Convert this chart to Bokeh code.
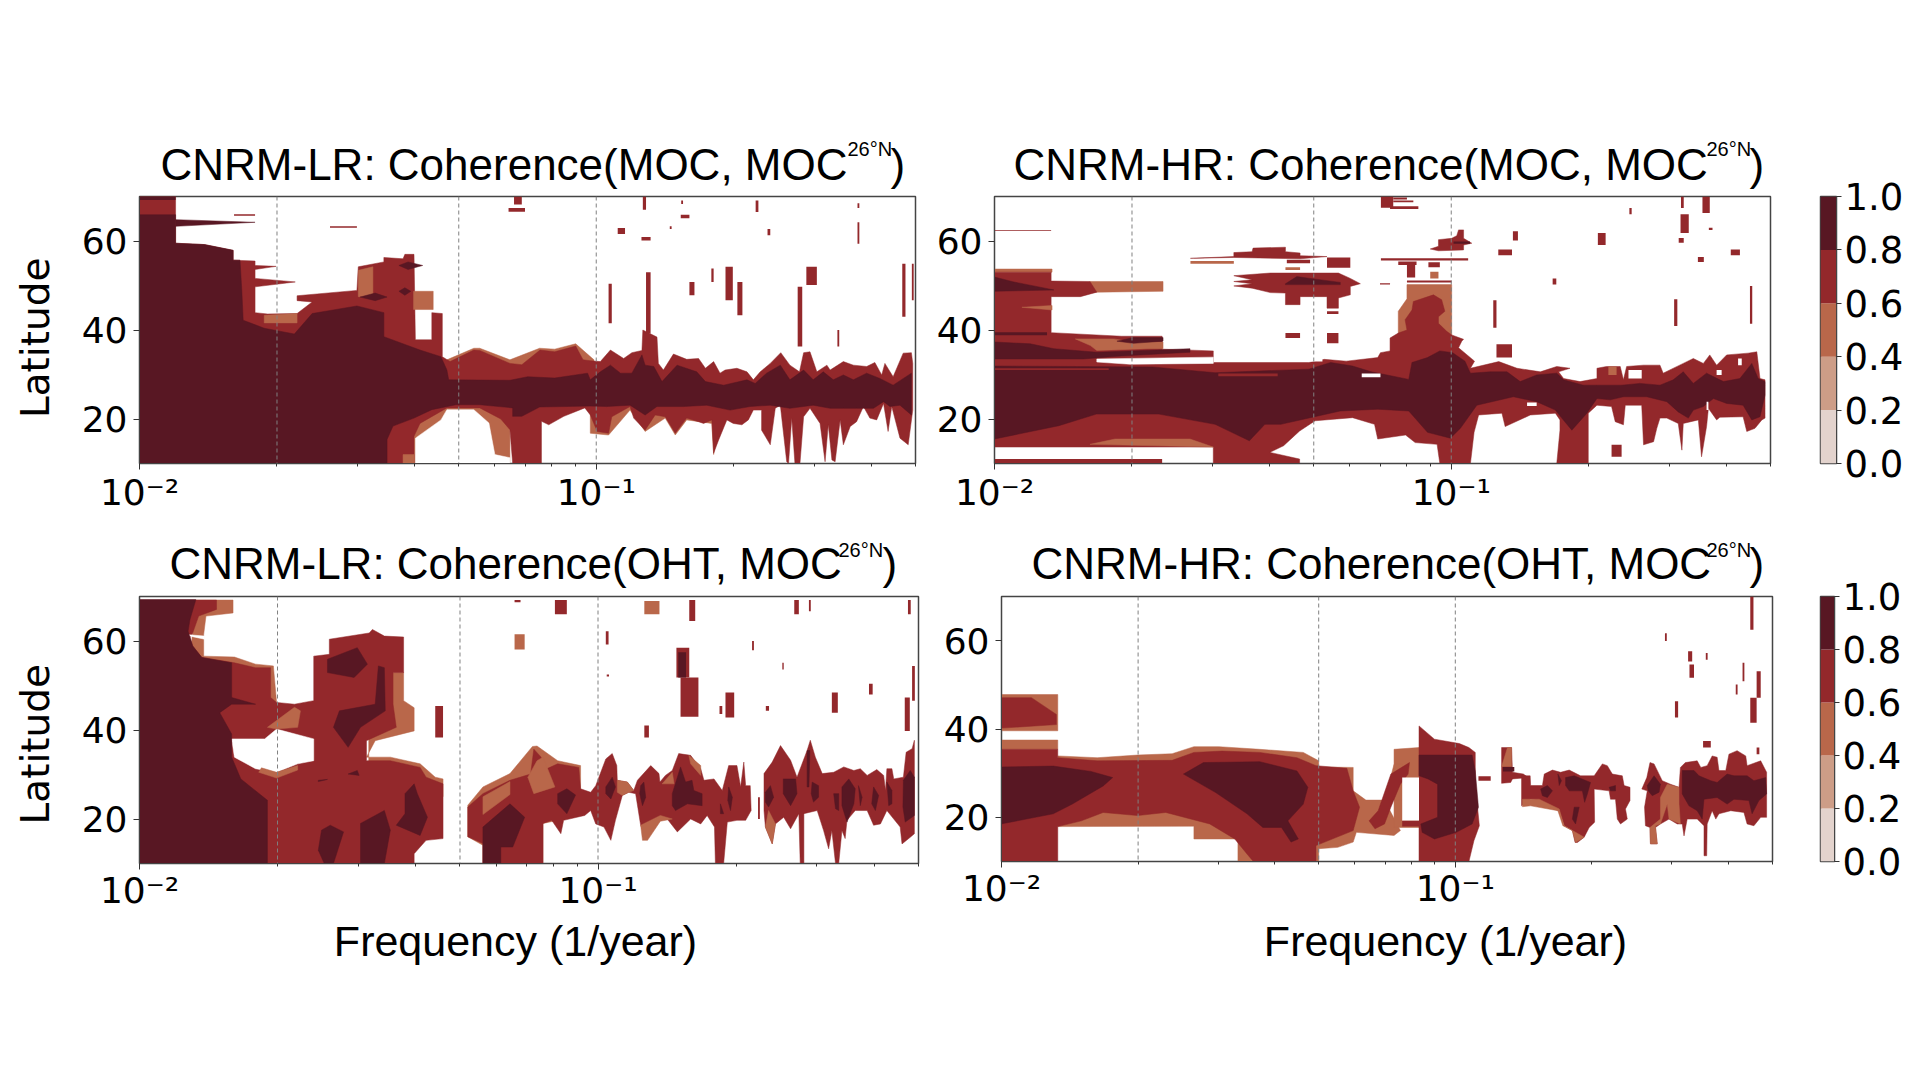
from bokeh.plotting import figure
from bokeh.layouts import row, column
from bokeh.models import Label, Span, FixedTicker, Range1d
from bokeh.embed import file_html
from bokeh.resources import INLINE

# Contour levels and their colours
levels = [0.0, 0.2, 0.4, 0.6, 0.8, 1.0]
level_colors = ["#e3d3cd", "#cd9d87", "#b9674a", "#93282b", "#581723"]
C_ORANGE, C_RED, C_DARK = level_colors[2], level_colors[3], level_colors[4]
WHITE = "#ffffff"

guide_freqs = [0.02, 0.05, 0.1]
lat_ticks = [20, 40, 60]
freq_major = [0.01, 0.1]
freq_minor = [0.02, 0.03, 0.04, 0.05, 0.06, 0.07, 0.08, 0.09, 0.2, 0.3, 0.4, 0.5]
freq_tick_labels = {0.01: "10\u207b\u00b2", 0.1: "10\u207b\u00b9"}

title_a = "CNRM-LR: Coherence(MOC, MOC"
title_b = "CNRM-HR: Coherence(MOC, MOC"
title_c = "CNRM-LR: Coherence(OHT, MOC"
title_d = "CNRM-HR: Coherence(OHT, MOC"
title_sup = "26\u00b0N"
x_label = "Frequency (1/year)"
y_label = "Latitude"

# Every region is (log10 frequency, latitude).
# ---- CNRM-LR MOC
A_orange_under = [
    [(-1.327,33.3),(-1.268,35.9),(-1.255,35.9),(-1.189,33.3),(-1.124,35.9),(-1.091,35.7),(-1.045,36.9),(-1.005,33.3),(-1.005,30),(-1.327,30)],
    [(-1.013,16.8),(-.973,16.4),(-.926,22),(-.893,17.2),(-.849,20.2),(-.827,16.4),(-.802,19.8),(-.747,19),(-.743,12),(-.732,19),(-.7,23),(-1.013,23)],
    [(-1.43,10),(-1.43,22.7),(-1.189,22.7),(-1.189,10)],
]
A_red = [
    [(-2,70),(-1.921,70),(-1.921,59.5),(-1.858,59.2),(-1.795,57.9),(-1.795,55.7),(-1.747,55.5),(-1.747,54.5),(-1.701,54.3),(-1.747,53.6),(-1.747,51.6),(-1.659,50.8),(-1.747,49.7),(-1.747,43.9),(-1.720,43.6),(-1.655,43.7),(-1.622,46.3),(-1.655,46.6),(-1.655,47.7),(-1.524,48.9),(-1.521,54.2),(-1.465,55.3),(-1.465,56.3),(-1.423,56),(-1.419,57),(-1.399,57),(-1.396,37.8),(-1.360,37.8),(-1.360,43.9),(-1.337,43.7),(-1.337,34),(-1.320,32.9),(-1.268,35.5),(-1.255,35.4),(-1.189,32.5),(-1.163,32.2),(-1.123,35.5),(-1.091,35.1),(-1.045,36.4),(-1.029,33.3),
     (-1.013,33.1),(-.991,32.9),(-.969,35.5),(-.940,33.6),(-.922,34.9),(-.900,35.4),(-.898,40),(-.867,38.4),(-.864,32.5),(-.853,31),(-.831,34.6),(-.802,33.4),(-.776,33.6),(-.761,31.4),(-.743,32.9),(-.729,30.3),(-.718,31),(-.692,31.4),(-.670,30.6),(-.656,28.8),(-.641,30.6),(-.619,32.5),(-.596,34.9),(-.576,32.1),(-.555,30.6),(-.546,34.9),(-.532,35.1),(-.517,30.6),(-.495,32.1),(-.488,31),(-.459,32.9),(-.437,32.1),(-.408,31.8),(-.390,32.7),(-.375,29.9),(-.368,32.5),(-.350,29.5),(-.328,34.8),(-.310,34.9),(-.307,32.5),
     (-.307,22),(-.317,14.2),(-.335,15.7),(-.353,22.8),(-.361,17.2),(-.371,23.5),(-.386,19.8),(-.401,20.2),(-.415,22.8),(-.430,19.4),(-.444,18.3),(-.459,14.2),(-.466,19.8),(-.477,10.4),(-.484,10.8),(-.492,18.7),(-.499,10.4),(-.510,19),(-.532,22.4),(-.546,20.5),(-.554,10),(-.565,10),(-.572,20.2),(-.579,10),(-.583,10.4),(-.597,23.1),(-.608,22.4),(-.619,14.2),(-.638,17.5),(-.638,22),(-.656,22),(-.667,19.8),(-.681,18.7),(-.700,19),(-.714,19.8),(-.732,15.3),(-.743,12.3),(-.747,19.8),(-.765,19),(-.776,19.4),(-.802,20.2),(-.827,16.8),(-.849,20.5),(-.871,20.9),(-.893,17.5),(-.918,20.2),(-.926,22.8),(-.966,20.5),(-.973,16.8),(-.998,17.2),(-1.013,20.9),
     (-1.025,22.5),(-1.071,20.6),(-1.104,18.7),(-1.120,19.5),(-1.120,10),(-1.183,10),(-1.189,17.6),(-1.209,20),(-1.255,22.5),(-1.327,22.5),(-1.386,19),(-1.399,16.1),(-1.399,10),(-2,10)],
]
A_orange_over = [
    [(-1.727,43.3),(-1.655,43.7),(-1.655,41.6),(-1.727,41.6)],
    [(-1.521,47.5),(-1.521,53.4),(-1.489,54.2),(-1.489,47.5)],
    [(-1.40,44.6),(-1.357,44.6),(-1.357,48.7),(-1.40,48.7)],
    [(-1.423,10),(-1.399,10),(-1.399,12),(-1.423,12)],
]
A_dark = [
    [(-2,65.9),(-1.921,65.9),(-1.921,59.5),(-1.858,59.2),(-1.795,57.9),(-1.795,55.7),(-1.780,55.7),(-1.776,48.9),(-1.773,42.2),(-1.727,40.4),(-1.661,39.1),(-1.622,43.7),(-1.524,45.4),(-1.465,43.9),(-1.465,38.5),(-1.386,35.5),(-1.340,34),(-1.327,31),(-1.323,28.8),(-1.189,28.7),(-1.150,29.5),(-1.091,29.2),(-1.019,30.3),
     (-1.013,28.8),(-.991,30.6),(-.969,32.1),(-.947,30.3),(-.922,30.3),(-.900,34.4),(-.893,32.1),(-.874,31.8),(-.856,28.4),(-.823,32.1),(-.780,30.6),(-.761,28.4),(-.721,27.6),(-.670,28.8),(-.652,28),(-.627,30.3),(-.597,32.1),(-.576,28.8),(-.546,31),(-.525,28.8),(-.503,30.6),(-.481,28.8),(-.459,29.9),(-.437,28.8),(-.408,30.3),(-.379,29.1),(-.350,27.6),(-.310,30.3),
     (-.310,20.9),(-.335,23.1),(-.357,22.8),(-.371,23.9),(-.393,22.4),(-.430,22.4),(-.459,22.4),(-.488,22.4),(-.525,23.1),(-.576,22.4),(-.619,23.1),(-.663,22.8),(-.707,22),(-.758,23.1),(-.809,22.8),(-.867,22.8),(-.893,20.9),(-.926,23.1),(-.977,22.8),(-1.013,22.9),
     (-1.124,22.7),(-1.163,20.6),(-1.183,20.6),(-1.183,22.5),(-1.255,23.2),(-1.307,23.2),(-1.360,22.1),(-1.399,20.2),(-1.445,18.4),(-1.458,15.4),(-1.458,10),(-2,10)],
    [(-1.921,64.8),(-1.747,64.2),(-1.921,63.3)],
    [(-1.432,54.5),(-1.412,55.3),(-1.380,54.5),(-1.412,53.6)],
    [(-1.517,47.4),(-1.484,48.3),(-1.458,47.4),(-1.484,46.6)],
    [(-1.432,48.7),(-1.419,49.5),(-1.406,48.7),(-1.419,47.8)],
]
A_white = [[(-1.396,10),(-1.396,15.7),(-1.340,19.8),(-1.327,22.1),(-1.268,22.1),(-1.235,19.1),(-1.222,12),(-1.189,11.3),(-1.189,10)]]
# (left, right, bottom, top) in log10 frequency and latitude
A_red_quads = [(-.973,-.966,41.5,50.4),(-.891,-.881,39.2,53),(-.796,-.785,47.8,50.8),(-.748,-.743,50.8,53.8),(-.717,-.701,46.7,54.2),(-.691,-.680,43.3,50.8),(-.559,-.549,36.3,49.7),(-.540,-.517,50.1,54.2),(-.472,-.468,36.3,40),(-.330,-.323,43,54.9),(-.309,-.305,46.7,54.9),(-1.180,-1.163,68.2,70),(-1.192,-1.156,66.6,67.4),(-.898,-.891,67,70),(-.651,-.645,66.5,69.1),(-.814,-.810,68.3,69.1),(-.815,-.796,65.1,65.9),(-.953,-.937,61.6,62.9),(-.625,-.619,61.3,62.7),(-.901,-.881,60.1,60.9),(-.839,-.835,62.7,63.3),(-.428,-.424,59.4,64.2),(-.428,-.424,67.4,68.5),(-1.583,-1.524,63,63.3),(-1.793,-1.747,65.7,66)]
A_dark_quads = [(-2,-1.921,69.2,70)]

# ---- CNRM-HR MOC
B_orange_under = [
    [(-2,53),(-1.874,53),(-1.874,53.7),(-2,53.7)],
    [(-1.791,50.9),(-1.631,50.9),(-1.631,48.7),(-1.776,48.5),(-1.791,48.5)],
    [(-1.097,50.2),(-.999,50.2),(-.999,38.5),(-1.116,38.5),(-1.116,44.2),(-1.097,47)],
]
B_red = [
    [(-2,53),(-1.876,53),(-1.876,51),(-1.791,50.9),(-1.776,48.5),(-1.812,47.5),(-1.876,47.5),(-1.876,39.4),(-1.722,38.6),(-1.633,38.6),(-1.633,35.7),(-1.521,35.3),(-1.521,32.7),(-1.312,32.7),(-1.278,33.4),(-1.230,33),(-1.161,33.8),(-1.155,34.9),(-1.134,35.3),(-1.134,38.2),(-1.116,39.3),(-1.097,40),(-1.101,42.3),(-1.086,44.5),(-1.083,46.4),(-1.039,47.9),(-1.021,46.8),(-1.014,44.2),(-1.028,43),(-1.028,41.5),(-1.010,39.7),(-.999,38.9),(-.973,37.9),(-.977,37.5),(-.984,36),(-.949,33),
     (-.958,31.4),(-.896,32.9),(-.856,31.4),(-.805,30.6),(-.769,31.8),(-.740,31.4),(-.765,30.6),(-.754,29.1),(-.718,28.4),(-.681,29.1),(-.681,31.4),(-.660,31.8),(-.630,31.8),(-.623,28.8),(-.616,31.8),(-.579,32.1),(-.543,32.1),(-.536,30.3),(-.492,32.5),(-.470,33.6),(-.448,32.5),(-.434,34.4),(-.419,32.1),(-.397,34.4),(-.350,34.8),(-.331,35.1),(-.324,29.1),(-.313,28.8),
     (-.313,20.2),(-.320,19.8),(-.335,17.9),(-.353,17.2),(-.361,20.5),(-.412,20.4),(-.419,19.8),(-.437,22.4),(-.441,18.3),(-.452,11.5),(-.459,19.8),(-.492,19),(-.495,13),(-.503,19),(-.528,20.2),(-.543,20.2),(-.550,17.9),(-.557,14.9),(-.579,14.2),(-.583,23.1),(-.619,23.1),(-.623,18.7),(-.641,19.4),(-.649,22.8),(-.681,23.1),(-.700,21.3),(-.700,10),(-.769,10),(-.762,17.5),(-.762,19.8),(-.772,21.3),(-.827,20.9),(-.882,18.3),(-.889,21.3),(-.940,20.9),(-.950,17),(-.958,10),
     (-1.025,10),(-1.031,14.3),(-1.079,14.7),(-1.100,16.4),(-1.161,15.5),(-1.168,18.8),(-1.216,20.3),(-1.298,19.6),(-1.332,17.3),(-1.367,14),(-1.397,12.5),(-1.332,11),(-1.332,10),(-1.521,10),(-1.521,13.7),(-2,13.7)],
    [(-1.476,52.2),(-1.396,52.8),(-1.247,52.8),(-1.221,51.6),(-1.199,50.4),(-1.221,49.8),(-1.221,47.9),(-1.247,47.2),(-1.247,44.9),(-1.272,44.9),(-1.272,47.5),(-1.331,47.5),(-1.331,45.7),(-1.363,45.7),(-1.363,48.3),(-1.396,48.4),(-1.436,49.4),(-1.476,49.9),(-1.436,50.4),(-1.476,50.9),(-1.436,51.3)],
    [(-1.571,56.1),(-1.476,56.5),(-1.476,57.4),(-1.436,57.6),(-1.434,58.4),(-1.363,58.6),(-1.363,57.6),(-1.331,57.3),(-1.331,56.7),(-1.272,56.5),(-1.331,56),(-1.476,56.3)],
    [(-1.046,58.2),(-1.028,58.8),(-1.028,60.3),(-.999,60.6),(-.988,61.2),(-.984,62.5),(-.973,62.5),(-.973,60.6),(-.955,59.5),(-.973,59.1),(-.973,58),(-1.028,57.8)],
]
B_orange_over = [
    [(-1.823,38),(-1.739,38),(-1.696,37.3),(-1.631,37.3),(-1.631,35.8),(-1.666,35.8),(-1.776,35.4),(-1.790,36.5)],
    [(-1.791,14.3),(-1.736,15.5),(-1.572,15.5),(-1.521,13.7)],
    [(-1.940,45.1),(-1.874,45.5),(-1.874,44.5)],
]
B_dark = [
    [(-2,31.9),(-1.654,31.7),(-1.517,30.4),(-1.312,31.2),(-1.264,32.7),(-1.216,31.9),(-1.175,30.6),(-1.093,28.9),(-1.086,32.7),(-1.052,33.8),(-1.025,35.3),(-.997,34.9),(-.970,33),(-.958,30.3),
     (-.915,30.6),(-.878,30.6),(-.849,28.4),(-.813,29.9),(-.769,30.3),(-.754,28.8),(-.711,27.6),(-.681,27.6),(-.627,27.6),(-.587,28),(-.543,27.6),(-.514,28.8),(-.492,30.6),(-.470,28),(-.441,30.3),(-.404,28.4),(-.368,29.1),(-.342,32.5),(-.328,29.1),(-.313,28.4),
     (-.313,25.4),(-.324,20.5),(-.342,19.8),(-.361,23.1),(-.397,23.5),(-.426,24.6),(-.448,22.8),(-.470,22),(-.481,20.2),(-.503,21.6),(-.528,23.9),(-.572,25),(-.623,25),(-.652,24.3),(-.681,24.6),(-.703,21.3),(-.736,17.5),(-.758,20.2),(-.772,22),(-.813,23.9),(-.864,25),(-.944,23.1),(-.980,17.9),(-1.002,15.7),
     (-1.052,17),(-1.093,21.8),(-1.161,22.2),(-1.243,21.8),(-1.326,19.9),(-1.373,18.8),(-1.408,18.8),(-1.442,15.1),(-1.517,18.8),(-1.640,21.1),(-1.777,21.1),(-1.859,18.5),(-2,15.5)],
    [(-2,37.3),(-1.922,36.9),(-1.870,35.8),(-1.776,35),(-1.572,35.8),(-1.572,35),(-1.732,34.1),(-1.805,33.5),(-2,33.5)],
    [(-1.732,37.5),(-1.696,38.3),(-1.631,38.3),(-1.631,37.5),(-1.696,37)],
    [(-2,51.9),(-1.958,50.8),(-1.870,49),(-2,48.7)],
    [(-1.363,50.4),(-1.338,52),(-1.309,51.6),(-1.243,50.7),(-1.243,50.2),(-1.363,50.2)],
]
B_white = [[(-1.776,33.5),(-1.521,33.9),(-1.521,32.5),(-1.703,32.3),(-1.776,32.8)]]
B_white_quads = [(-1.196,-1.155,29.4,30.2),(-.834,-.813,22.9,23.7),(-1.328,-1.282,32.9,33.6),(-.612,-.583,29.1,31),(-.441,-.437,22,23.9),(-.419,-.408,29.9,31),(-.372,-.364,32.1,33.6)]
B_orange_quads = [(-.656,-.638,29.9,31.8),(-1.571,-1.476,54.9,55.5),(-1.363,-1.331,53.5,54.1),(-1.046,-1.028,51.6,53.1)]
B_red_quads = [(-1.154,-1.127,67.5,70),(-1.127,-1.097,69.3,69.8),(-1.127,-1.083,68.7,69.1),(-1.134,-1.072,67.2,67.8),(-2,-1.876,62.3,62.5),(-.865,-.854,60.1,62.2),(-.897,-.867,56.8,58.1),(-.679,-.662,59.1,61.8),(-.610,-.605,66,67.4),(-.498,-.480,61.8,66),(-.497,-.491,67.4,70),(-.450,-.434,66.3,70),(-.388,-.368,56.8,58.1),(-.436,-.428,62.5,63),(-.460,-.447,55.3,56.4),(-.502,-.491,59.6,60.7),(-.778,-.770,50.2,51.6),(-.908,-.901,40.5,46.7),(-.512,-.505,40.9,46.9),(-.346,-.341,41.4,49.9),(-.901,-.867,33.8,36.8),(-1.360,-1.309,55,55.8),(-1.272,-1.221,54,56.3),(-1.272,-1.247,43.6,44.2),(-1.156,-1.134,50.2,50.5),(-1.363,-1.331,38.2,39.3),(-1.272,-1.247,37,39.3),(-1.154,-.963,55.6,56.1),(-1.116,-1.076,54.6,55.4),(-1.097,-1.079,51.8,54.6),(-1.050,-1.025,54.1,55.2),(-1.097,-.999,50.7,51.1),(-1.510,-1.380,29.6,30.2),(-2,-1.750,31,31.4),(-.649,-.627,11.5,14.2),(-2,-1.633,10,11)]
B_dark_quads = [(-2,-1.885,38.8,39.5),(-.995,-.959,59.4,59.9)]

# ---- CNRM-LR OHT
C_orange_under = [
    [(-1.877,69.2),(-1.796,69.2),(-1.796,66.3),(-1.855,65.6),(-1.860,61.5),(-1.860,56.6),(-1.793,56.4),(-1.747,54.8),(-1.708,54.4),(-1.701,46.2),(-1.9,46.2)],
    [(-1.5,53),(-1.424,53),(-1.424,46.6),(-1.401,45),(-1.401,39.8),(-1.486,37.6),(-1.505,33.9),(-1.453,33.9),(-1.388,32.4),(-1.355,29.4),(-1.338,29),(-1.338,25),(-1.5,25)],
    [(-1.284,23.1),(-1.251,27.2),(-1.192,30.2),(-1.143,36.3),(-1.133,36.4),(-1.088,33.1),(-1.038,32),(-1.038,20.8),(-1.120,19),(-1.120,10),(-1.251,10),(-1.251,14.1),(-1.284,16)],
]
C_red = [
    [(-2,69.2),(-1.832,69.2),(-1.832,67.1),(-1.871,65.6),(-1.884,61.8),(-1.890,60.7),(-1.884,58.9),(-1.864,56.3),(-1.793,55.1),(-1.747,54),(-1.714,54),(-1.714,47.3),(-1.701,46.2),(-1.662,45.8),(-1.620,46.6),(-1.620,56.6),(-1.586,57),(-1.586,60.4),(-1.499,61.8),(-1.492,62.6),(-1.466,61.1),(-1.424,60.9),(-1.424,52.9),(-1.447,52.9),(-1.447,45.8),(-1.440,40.6),(-1.505,37.6),(-1.505,33.1),(-1.453,33.1),(-1.388,31.6),(-1.375,29.4),(-1.338,27.9),(-1.338,15.6),(-1.375,15.2),(-1.401,12.2),(-1.401,10),(-2,10)],
    [(-1.284,22.7),(-1.251,25.7),(-1.192,28.7),(-1.147,30.1),(-1.140,35.7),(-1.124,33.9),(-1.120,30.9),(-1.088,32.4),(-1.042,31.6),(-1.038,26.8),
     (-1.016,26),(-1.005,27.5),(-.983,33.5),(-.969,34.7),(-.959,32),(-.958,28.7),(-.936,28.3),(-.922,26.4),(-.914,28.7),(-.885,32),(-.867,30.2),(-.865,28.3),(-.853,29.8),(-.838,30.9),(-.824,34.7),(-.798,34.3),(-.776,31.3),(-.769,28.7),(-.747,29),(-.729,26.4),(-.715,32),(-.697,32),(-.689,27.2),(-.682,32.8),(-.678,27.5),(-.668,27.5),(-.666,21.9),
     (-.678,19.7),(-.697,19.7),(-.718,19.3),(-.726,10),(-.744,10),(-.746,18.2),(-.762,20.8),(-.776,18.9),(-.798,20),(-.827,17.1),(-.849,20),(-.871,20),(-.896,15.6),(-.907,18.6),(-.918,25.7),(-.933,26),(-.947,25.3),(-.962,19.7),(-.972,15.2),(-.987,18.2),(-1.005,18.9),(-1.016,21.9),
     (-1.029,20.8),(-1.075,19.7),(-1.081,16.7),(-1.101,19.7),(-1.120,19),(-1.120,10),(-1.251,10),(-1.251,14.5),(-1.284,16)],
    [(-.638,30.2),(-.620,32.8),(-.602,36.5),(-.580,33.2),(-.566,29.4),(-.544,35.4),(-.537,37.7),(-.526,33.9),(-.511,30.2),(-.486,30.5),(-.464,31.7),(-.442,30.9),(-.428,31.3),(-.413,29.8),(-.392,31.1),(-.377,29.8),(-.373,26.4),(-.370,31.3),(-.359,31.3),(-.355,29),(-.334,29.4),(-.328,35),(-.315,35.8),(-.310,37.7),
     (-.310,16.7),(-.319,15.9),(-.337,14.4),(-.341,18.2),(-.370,21.9),(-.384,18.9),(-.399,18.6),(-.413,21.9),(-.439,21.9),(-.457,19.7),(-.461,15.6),(-.468,17.4),(-.475,10),(-.482,10),(-.490,17.4),(-.497,13.3),(-.508,17.4),(-.522,21.9),(-.551,21.2),(-.551,10),(-.559,10),(-.562,21.2),(-.580,17.8),(-.595,20.4),(-.613,18.9),(-.620,14.4),(-.635,18.2),(-.638,21.9)],
]
C_orange_over = [
    [(-1.721,40.6),(-1.662,45.1),(-1.649,44.3),(-1.655,40.6),(-1.701,40.2)],
    [(-1.734,31.5),(-1.701,30.5),(-1.655,32),(-1.655,31),(-1.701,29.2),(-1.740,30.5)],
    [(-1.133,33.1),(-1.120,33.9),(-1.094,27.2),(-1.140,25.7),(-1.153,29.4)],
    [(-1.251,25),(-1.192,28.4),(-1.192,25.5),(-1.251,21)],
    [(-.958,28.7),(-.936,28.3),(-.922,26.4),(-.933,26),(-.947,25.3),(-.958,26)],
    [(-.860,27.9),(-.838,30.5),(-.834,27.9)],
    [(-.802,34.3),(-.776,32),(-.776,29.8),(-.798,32.4)],
    [(-.907,18.6),(-.864,20.8),(-.838,20),(-.864,19.5),(-.892,15.2),(-.903,15.2)],
    [(-.628,21.9),(-.613,18.9),(-.620,14.4),(-.635,18.2)],
]
C_dark = [
    [(-2,69.3),(-1.877,69.3),(-1.890,64.8),(-1.894,62.2),(-1.890,60.9),(-1.884,58.9),(-1.864,56.3),(-1.799,55.1),(-1.799,47.3),(-1.747,45.8),(-1.799,45.8),(-1.825,43.9),(-1.799,39.1),(-1.799,33.9),(-1.779,29),(-1.721,24.2),(-1.721,10),(-2,10)],
    [(-1.590,55.9),(-1.525,58.5),(-1.503,54.8),(-1.532,51.8),(-1.590,52.9)],
    [(-1.564,44.3),(-1.486,45.8),(-1.479,54.4),(-1.466,54),(-1.464,44.3),(-1.518,40.6),(-1.545,36.1),(-1.577,40.6)],
    [(-1.421,25.7),(-1.401,27.9),(-1.394,25.7),(-1.372,20.4),(-1.388,16.3),(-1.440,18.6),(-1.421,21.2)],
    [(-1.518,19),(-1.466,21.9),(-1.453,17.5),(-1.466,10),(-1.518,10)],
    [(-1.603,17.5),(-1.584,18.6),(-1.555,17.1),(-1.577,10),(-1.597,10),(-1.610,13)],
    [(-1.610,28.7),(-1.590,28.9),(-1.610,28.4)],
    [(-1.545,30.1),(-1.525,30.9),(-1.521,29.8)],
    [(-1.251,18.2),(-1.192,23.4),(-1.160,20.4),(-1.186,13.7),(-1.212,13.7),(-1.212,10),(-1.251,10)],
    [(-1.088,25.7),(-1.068,26.8),(-1.049,25.4),(-1.068,21.2),(-1.088,23.4)],
    [(-.983,27.2),(-.969,29.4),(-.962,27.2),(-.972,24.5),(-.983,25.7)],
    [(-.907,27.5),(-.900,28.3),(-.896,24.9),(-.903,23),(-.909,25.7)],
    [(-.838,25.7),(-.820,31.7),(-.809,28.3),(-.795,28.7),(-.791,26.4),(-.773,25.7),(-.773,23),(-.805,23.4),(-.831,21.9),(-.838,23)],
    [(-.733,23.4),(-.726,21.2),(-.733,21.2)],
    [(-.715,27.2),(-.707,24.9),(-.711,21.9),(-.717,24.2)],
    [(-.635,26),(-.624,27.5),(-.617,24.9),(-.628,22.7),(-.635,23.8)],
    [(-.596,29),(-.569,29),(-.566,25.7),(-.580,23),(-.596,25.7)],
    [(-.533,28.3),(-.519,27.5),(-.519,24.9),(-.530,23.8),(-.535,25.7)],
    [(-.486,25.7),(-.475,25.7),(-.475,21.9),(-.482,22.3)],
    [(-.468,27.2),(-.453,29),(-.439,26.8),(-.442,23.4),(-.457,19.3),(-.468,23)],
    [(-.432,27.5),(-.424,24.9),(-.428,23)],
    [(-.399,27.2),(-.388,25.3),(-.395,21.9),(-.403,23.4)],
    [(-.370,28.3),(-.359,26.4),(-.359,23.4),(-.366,23)],
    [(-.334,28.7),(-.319,30.9),(-.310,29.4),(-.310,20.8),(-.330,19.3),(-.335,22.7)],
    [(-.544,35.4),(-.538,35.4),(-.540,27.2),(-.544,27.2)],
]
C_white = [
    [(-1.799,38),(-1.727,38),(-1.701,40.2),(-1.620,38),(-1.620,33.1),(-1.655,32.4),(-1.701,30.5),(-1.747,31.3),(-1.793,33.9)],
    [(-1.913,61.6),(-1.858,61.1),(-1.858,60.4)],
]
C_red_quads = [(-1.355,-1.338,38.3,45.4),(-1.094,-1.068,66,69.2),(-.801,-.788,64.5,69.2),(-1.182,-1.169,68.7,69.2),(-.572,-.562,66,69.2),(-.540,-.536,66.7,69.2),(-.324,-.318,66,69.2),(-.983,-.977,59.2,62.2),(-.664,-.660,57.9,60),(-.829,-.801,51.8,58.5),(-.820,-.781,43,51.8),(-.899,-.889,38.3,41),(-.722,-.703,42.8,48.4),(-.735,-.729,43.6,45.4),(-.634,-.627,44.3,45.4),(-.490,-.477,43.9,48.4),(-.598,-.595,53.6,55.1),(-.409,-.401,48,50.4),(-.331,-.320,39.8,47.3),(-.315,-.309,46.6,54.4),(-.981,-.976,52,52.5),(-.651,-.647,20,24.9)]
C_orange_quads = [(-.899,-.866,66,69),(-1.182,-1.160,58.1,61.5)]
C_dark_quads = [(-.825,-.808,51.8,57.5)]

# ---- CNRM-HR OHT
D_orange_under = [
    [(-2,39.6),(-1.876,39.6),(-1.876,47.8),(-2,47.8)],
    [(-2,35.4),(-1.876,35.4),(-1.876,37.5),(-2,37.5)],
    [(-1.876,33.9),(-1.789,33.5),(-1.700,34.1),(-1.624,34.4),(-1.576,36),(-1.521,36),(-1.431,35.4),(-1.335,34.7),(-1.301,32.8),(-1.301,31.4),(-1.225,31.3),(-1.225,26),(-1.197,23.9),(-1.156,23.9),(-1.121,17),(-1.135,15.9),(-1.218,16.6),(-1.225,14.4),(-1.259,13.2),(-1.301,12.9),(-1.301,10),(-1.479,10),(-1.479,15.1),(-1.576,15.1),(-1.576,18),(-1.876,17.9)],
    [(-1.135,35.4),(-1.080,35.8),(-1.080,17.7),(-1.135,17.7)],
    [(-1.156,23.9),(-1.135,32),(-1.117,32),(-1.117,23.9)],
]
D_red = [
    [(-2,47.1),(-1.934,47.1),(-1.879,43.3),(-1.879,41),(-2,40.2)],
    [(-2,35.4),(-1.876,35.4),(-1.876,33.5),(-1.789,32.8),(-1.624,32.9),(-1.576,34.7),(-1.514,35),(-1.431,34.7),(-1.349,33.5),(-1.307,31.7),(-1.239,31.1),(-1.225,26),(-1.211,22.3),(-1.225,17),(-1.307,13.6),(-1.307,10),(-1.445,10),(-1.459,11.7),(-1.486,15.1),(-1.541,18.5),(-1.638,21.1),(-1.700,20.4),(-1.776,21.1),(-1.824,19.2),(-1.876,17.9),(-1.876,10),(-2,10)],
    [(-1.190,19.2),(-1.170,21.5),(-1.142,29.8),(-1.101,32.4),(-1.104,29.8),(-1.121,27.5),(-1.142,22.3),(-1.156,18.5),(-1.177,17.4)],
    [(-1.080,40.7),(-1.046,37.7),(-.991,36.7),(-.970,35.8),(-.956,34.7),(-.956,27.5),(-.947,18.1),(-.959,14.7),(-.970,10),(-1.080,10)],
    [(-.898,35.8),(-.876,35.8),(-.874,30.2),(-.850,29.8),(-.839,29),(-.874,28.7),(-.878,27.9),(-.898,27.7)],
    [(-.854,29.4),(-.835,29.4),(-.834,27.2),(-.808,27.2),(-.804,29.8),(-.786,30.7),(-.768,30.2),(-.749,30.7),(-.724,29.4),(-.694,29.4),(-.676,32.1),(-.665,31.7),(-.654,29.8),(-.632,29.4),(-.628,27.2),(-.615,26.8),(-.615,23.8),(-.625,21.9),(-.621,19.6),(-.636,18.5),(-.643,19.6),(-.647,24.1),(-.658,24.1),(-.661,26),(-.694,26.4),(-.693,18.9),(-.705,17.7),(-.716,15.5),(-.731,14.3),(-.736,14.3),(-.742,17),(-.760,18.1),(-.771,21.5),(-.797,22.3),(-.815,23.8),(-.834,24.1),(-.854,22.6)],
    [(-.589,26.4),(-.578,29),(-.571,32.4),(-.562,32.1),(-.544,28.3),(-.526,27.5),(-.507,26.8),(-.504,31.3),(-.493,32.4),(-.467,32.8),(-.459,31.3),(-.445,31.7),(-.434,33.9),(-.423,33.6),(-.419,30.6),(-.404,30.6),(-.397,34.3),(-.379,35.1),(-.360,33.9),(-.357,31.7),(-.327,32.8),(-.314,30.2),
     (-.314,20),(-.327,20),(-.342,18.1),(-.357,18.5),(-.364,21.1),(-.393,21.5),(-.419,20.8),(-.426,19.6),(-.434,21.5),(-.445,18.5),(-.446,11.3),(-.452,11.3),(-.452,18.1),(-.467,19.6),(-.489,19.6),(-.496,15.8),(-.500,18.5),(-.511,18.5),(-.529,19.6),(-.548,18.5),(-.559,17.7),(-.555,14),(-.570,14),(-.571,17.7),(-.581,18.1),(-.583,22.3),(-.577,26)],
]
D_orange_over = [
    [(-.852,24.1),(-.815,24.1),(-.771,21.9),(-.760,18.1),(-.716,15.5),(-.735,14.3),(-.742,17),(-.763,18.1),(-.774,21.5),(-.834,22.6),(-.852,22.4)],
    [(-.898,31.5),(-.876,31.5),(-.876,35.8),(-.885,35.8)],
    [(-.548,24.5),(-.533,27.5),(-.507,26.8),(-.507,23),(-.504,18.5),(-.529,19.6),(-.533,23),(-.548,18.5),(-.559,18.1),(-.555,14),(-.570,14),(-.571,17.7),(-.548,19.6)],
]
D_dark = [
    [(-1.080,34.1),(-.963,34.1),(-.956,30.5),(-.949,22.3),(-.963,18.5),(-.998,16.6),(-1.046,15.1),(-1.073,16.6),(-1.076,18.5),(-1.039,20),(-1.039,27.5),(-1.060,28.7),(-1.080,29.4)],
    [(-2,31.4),(-1.886,31.6),(-1.803,30.4),(-1.755,29),(-1.776,27.1),(-1.844,23),(-1.886,20.8),(-1.996,18.6),(-2,18.5)],
    [(-1.599,29.8),(-1.555,32.4),(-1.431,32.6),(-1.349,30.5),(-1.325,26.8),(-1.335,23),(-1.369,19.2),(-1.346,15.1),(-1.362,14.4),(-1.383,17.7),(-1.424,17.7),(-1.459,20.8),(-1.528,25.6)],
    [(-.812,26.4),(-.797,27.2),(-.786,26),(-.797,24.5),(-.808,24.9)],
    [(-.757,29),(-.738,29.4),(-.702,27.9),(-.709,25.3),(-.715,23.4),(-.720,26),(-.749,26),(-.757,27.2)],
    [(-.738,22.3),(-.727,22.3),(-.735,18.5),(-.742,19.6)],
    [(-.774,29.8),(-.766,28.3),(-.771,27.2)],
    [(-.661,26.8),(-.647,27.2),(-.647,26),(-.658,26)],
    [(-.577,27.2),(-.562,29.4),(-.548,27.5),(-.551,25.7),(-.566,24.9),(-.575,26)],
    [(-.500,30.6),(-.474,30.6),(-.463,29.4),(-.437,28.3),(-.423,27.9),(-.401,29.8),(-.386,29.4),(-.357,29.4),(-.342,28.3),(-.316,29),(-.314,25.3),(-.331,23.8),(-.346,20.8),(-.353,23.8),(-.386,24.1),(-.401,23),(-.423,24.5),(-.452,24.1),(-.456,19.6),(-.467,21.5),(-.485,22.6),(-.500,25.3)],
]
D_white_quads = [(-1.117,-1.080,19.2,29)]
D_red_quads = [(-1.117,-1.080,17.9,19.2),(-.949,-.922,28.3,29.3),(-.350,-.343,62.5,70),(-.538,-.534,59.9,61.7),(-.487,-.478,55.3,57.6),(-.484,-.474,51.6,54.6),(-.448,-.444,55.7,57.2),(-.516,-.509,42.6,46.3),(-.382,-.378,47.8,50.1),(-.367,-.363,50.8,55),(-.336,-.327,47.1,53.1),(-.350,-.336,41.4,47.1),(-.454,-.437,35.8,37.3),(-.336,-.330,34.3,35.8)]
D_dark_quads = [(-.895,-.870,30.4,31.4)]


def draw_polys(p, polys, color):
    if polys:
        p.patches([[10 ** a for a, _ in poly] for poly in polys],
                  [[b for _, b in poly] for poly in polys],
                  fill_color=color, line_color=color, line_width=0.5)


def draw_quads(p, quads, color):
    if quads:
        p.quad(left=[10 ** q[0] for q in quads], right=[10 ** q[1] for q in quads],
               bottom=[q[2] for q in quads], top=[q[3] for q in quads],
               fill_color=color, line_color=None)


def panel(w, h, left, right, top, bottom, layers, tick_standoff=2):
    p = figure(x_axis_type="log", x_range=(0.01, 0.5), y_range=(10, 70),
               frame_width=w, frame_height=h, toolbar_location=None, output_backend="svg",
               min_border_left=left, min_border_right=right, min_border_top=top, min_border_bottom=bottom)
    p.grid.visible = False
    p.outline_line_color = "#444444"
    p.outline_line_width = 1.5
    for kind, data, color in layers:
        (draw_polys if kind == "poly" else draw_quads)(p, data, color)
    for f in guide_freqs:
        p.add_layout(Span(location=f, dimension="height", line_color="#808080",
                          line_dash="4 3", line_width=1))
    p.xaxis.ticker = FixedTicker(ticks=freq_major, minor_ticks=freq_minor)
    p.xaxis.major_label_overrides = freq_tick_labels
    p.xaxis.major_label_standoff = tick_standoff
    p.yaxis.ticker = FixedTicker(ticks=lat_ticks)
    p.yaxis.major_label_standoff = 6
    for ax in (p.xaxis[0], p.yaxis[0]):
        ax.major_label_text_font = "DejaVu Sans"
        ax.major_label_text_font_size = "36px"
        ax.major_label_text_color = "#000000"
        ax.axis_line_color = "#444444"
        ax.major_tick_line_color = "#333333"
        ax.major_tick_in = 0
        ax.major_tick_out = 6
    p.xaxis.minor_tick_in = 0
    p.xaxis.minor_tick_out = 3
    p.xaxis.minor_tick_line_color = "#333333"
    p.yaxis.minor_tick_line_color = None
    return p


def colorbar(w, h, left, right, top, bottom):
    p = figure(x_range=(0, 1), y_range=(0, 1), frame_width=w, frame_height=h,
               toolbar_location=None, output_backend="svg",
               min_border_left=left, min_border_right=right, min_border_top=top, min_border_bottom=bottom,
               y_axis_location="right", x_axis_location=None)
    p.grid.visible = False
    p.quad(left=0, right=1, bottom=levels[:-1], top=levels[1:], fill_color=level_colors, line_color=None)
    p.outline_line_color = "#444444"
    p.outline_line_width = 1.5
    ax = p.yaxis[0]
    ax.ticker = FixedTicker(ticks=levels)
    ax.major_label_overrides = {v: f"{v:.1f}" for v in levels}
    ax.major_label_text_font = "DejaVu Sans"
    ax.major_label_text_font_size = "37px"
    ax.major_label_text_color = "#000000"
    ax.major_tick_in = 0
    ax.major_tick_out = 5
    ax.major_label_standoff = 3
    ax.axis_line_color = "#444444"
    ax.major_tick_line_color = "#333333"
    ax.minor_tick_line_color = None
    return p


def strip(w, h):
    """A bare figure whose data units are page pixels, used only to hold texts."""
    p = figure(width=w, height=h, x_range=Range1d(0, w), y_range=Range1d(h, 0),
               toolbar_location=None, output_backend="svg", min_border=0,
               x_axis_location=None, y_axis_location=None)
    p.grid.visible = False
    p.outline_line_color = None
    return p


def put(p, x, y, text, size, font="Liberation Sans", **kw):
    p.add_layout(Label(x=x, y=y, text=text, text_font=font, text_font_size=f"{size}px",
                       text_color="#000000", **kw))


def title_at(p, x, sup_x, paren_x, y, text, sup_drop=29):
    put(p, x, y, text, 44)
    put(p, sup_x, y - sup_drop, title_sup, 20)
    put(p, paren_x, y, ")", 44)


pa = panel(776, 267, 79, 15, 4, 54, [
    ("poly", A_orange_under, C_ORANGE), ("poly", A_red, C_RED), ("poly", A_white, WHITE), ("poly", A_orange_over, C_ORANGE),
    ("poly", A_dark, C_DARK), ("quad", A_red_quads, C_RED), ("quad", A_dark_quads, C_DARK)])
pb = panel(776, 267, 64, 25, 4, 54, [
    ("poly", B_orange_under, C_ORANGE), ("poly", B_red, C_RED), ("poly", B_orange_over, C_ORANGE),
    ("poly", B_dark, C_DARK), ("poly", B_white, WHITE), ("quad", B_white_quads, WHITE), ("quad", B_orange_quads, C_ORANGE),
    ("quad", B_red_quads, C_RED), ("quad", B_dark_quads, C_DARK)])
pc = panel(779, 267, 79, 12, 4, 52, [
    ("poly", C_orange_under, C_ORANGE), ("poly", C_red, C_RED), ("poly", C_white, WHITE),
    ("poly", C_orange_over, C_ORANGE), ("poly", C_dark, C_DARK),
    ("quad", C_red_quads, C_RED), ("quad", C_orange_quads, C_ORANGE), ("quad", C_dark_quads, C_DARK)], tick_standoff=0)
pd = panel(771, 265, 71, 23, 4, 54, [
    ("poly", D_orange_under, C_ORANGE), ("poly", D_red, C_RED), ("poly", D_orange_over, C_ORANGE),
    ("poly", D_dark, C_DARK), ("quad", D_white_quads, WHITE),
    ("quad", D_red_quads, C_RED), ("quad", D_dark_quads, C_DARK)], tick_standoff=0)

LEFT_W = 1795

s1 = strip(LEFT_W, 192)
title_at(s1, 160, 847, 890, 188, title_a)
title_at(s1, 1013, 1706, 1749, 188, title_b)

s2 = strip(LEFT_W, 75)
title_at(s2, 169, 838, 882, 70, title_c, sup_drop=27)
title_at(s2, 1031, 1706, 1749, 70, title_d, sup_drop=27)

s3 = strip(LEFT_W, 85)
put(s3, 515, 49, x_label, 43, text_align="center")
put(s3, 1445, 49, x_label, 43, text_align="center")

lat1 = strip(60, 325)
put(lat1, 35, 172, y_label, 39, font="DejaVu Sans", angle=1.5708, text_align="center", text_baseline="middle")
lat2 = strip(60, 323)
put(lat2, 35, 180, y_label, 39, font="DejaVu Sans", angle=1.5708, text_align="center", text_baseline="middle")

cb1 = colorbar(16, 267, 23, 78, 196, 67)
cb2 = colorbar(14, 265, 25, 78, 66, 211)

left_part = column(s1, row(lat1, pa, pb), s2, row(lat2, pc, pd), s3)
layout = row(left_part, column(cb1, cb2))
open("out.html", "w").write(file_html(layout, INLINE))
